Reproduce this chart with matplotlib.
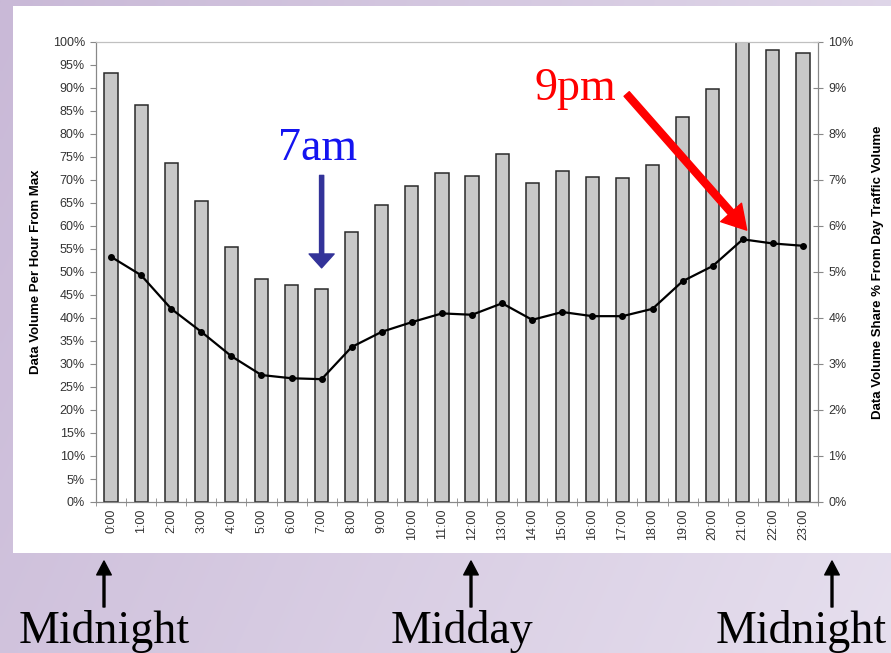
import numpy as np
import matplotlib
matplotlib.use('Agg')
import matplotlib.pyplot as plt
from matplotlib.patches import Rectangle
from matplotlib.colors import to_rgb

# ---------------- data ----------------
hours = ["0:00", "1:00", "2:00", "3:00", "4:00", "5:00", "6:00", "7:00",
         "8:00", "9:00", "10:00", "11:00", "12:00", "13:00", "14:00", "15:00",
         "16:00", "17:00", "18:00", "19:00", "20:00", "21:00", "22:00", "23:00"]
volume_pct_of_max = [93.3, 86.3, 73.7, 65.4, 55.5, 48.5, 47.1, 46.2,
                     58.8, 64.5, 68.8, 71.5, 70.9, 75.6, 69.4, 71.9,
                     70.6, 70.5, 73.2, 83.8, 89.8, 100.0, 98.3, 97.7]
share_pct_of_day = [5.33, 4.93, 4.20, 3.70, 3.17, 2.76, 2.69, 2.67,
                    3.37, 3.70, 3.91, 4.10, 4.07, 4.32, 3.96, 4.13,
                    4.04, 4.04, 4.20, 4.80, 5.13, 5.71, 5.62, 5.57]
left_ticks = [0, 5, 10, 15, 20, 25, 30, 35, 40, 45, 50, 55, 60, 65, 70, 75, 80, 85, 90, 95, 100]
right_ticks = [0, 1, 2, 3, 4, 5, 6, 7, 8, 9, 10]

W, H = 891, 653
fig = plt.figure(figsize=(W / 100, H / 100), dpi=100)

# ---------------- background (slide) ----------------
bg = fig.add_axes([0, 0, 1, 1], zorder=-5)
bg.set_xlim(0, W)
bg.set_ylim(H, 0)
bg.axis('off')
c_left = np.array(to_rgb('#c9b9d7'))
c_right = np.array(to_rgb('#e6dfee'))
gx = np.linspace(0, 1, 200)[None, :, None]
gy = np.linspace(0, 1, 100)[:, None, None]
t = np.clip(0.75 * gx + 0.25 * gy, 0, 1)
grad = c_left * (1 - t) + c_right * t
bg.imshow(grad, extent=[0, W, H, 0], aspect='auto', interpolation='bilinear')
bg.add_patch(Rectangle((13, 6), W - 13, 547, facecolor='white', edgecolor='none'))

# bottom annotations
serif = ['Liberation Serif', 'DejaVu Serif']
for xc, label in [(104, 'Midnight'), (462, 'Midday'), (801, 'Midnight')]:
    bg.text(xc, 643, label, ha='center', va='baseline', fontsize=33,
            family=serif, color='black')
for xa in [104, 471, 832]:
    bg.annotate('', xy=(xa, 561), xytext=(xa, 607),
                arrowprops=dict(arrowstyle='simple,head_width=1.05,head_length=1.0,tail_width=0.14',
                                mutation_scale=10, color='black', shrinkA=0, shrinkB=0))

# ---------------- main chart ----------------
ax = fig.add_axes([96 / W, 1 - 502 / H, 722 / W, 460 / H])
x = np.arange(len(hours))
ax.bar(x, volume_pct_of_max, width=0.44, color='#c8c8c8', edgecolor='#2a2a2a',
       linewidth=1.1, zorder=2)
ax.set_xlim(-0.5, len(hours) - 0.5)
ax.set_ylim(0, 100)
ax.set_yticks(left_ticks)
ax.set_yticklabels([f"{v}%" for v in left_ticks])
ax.set_xticks(x)
ax.set_xticklabels(hours, rotation=90)
ax.set_xticks(np.arange(len(hours) + 1) - 0.5, minor=True)
ax.tick_params(axis='x', which='major', length=0, pad=5, labelsize=9, labelcolor='#333333')
ax.tick_params(axis='x', which='minor', direction='inout', length=6, color='#888888')
ax.tick_params(axis='y', length=4, color='#888888', labelsize=9, labelcolor='#333333', pad=4)
for s in ['left', 'bottom']:
    ax.spines[s].set_color('#888888')
ax.spines['top'].set_color('#c0c0c0')
ax.spines['right'].set_color('#888888')
ax.set_ylabel('Data Volume Per Hour From Max', fontsize=9.5, fontweight='bold',
              family='Liberation Sans', labelpad=8)

ax2 = ax.twinx()
ax2.plot(x, share_pct_of_day, color='black', linewidth=1.6, marker='o',
         markersize=4, zorder=3)
ax2.set_ylim(0, 10)
ax2.set_yticks(right_ticks)
ax2.set_yticklabels([f"{v}%" for v in right_ticks])
ax2.tick_params(axis='y', direction='inout', length=7, color='#888888',
                labelsize=9, labelcolor='#333333', pad=4)
for s in ax2.spines.values():
    s.set_color('#888888')
ax2.spines['top'].set_color('#c0c0c0')
ax2.set_ylabel('Data Volume Share % From Day Traffic Volume', fontsize=9.5,
               fontweight='bold', family='Liberation Sans', labelpad=13)

for a in (ax, ax2):
    for lab in a.get_xticklabels() + a.get_yticklabels():
        lab.set_family('Liberation Sans')

# 7am annotation
ax2.text(6.87, 74.3, '7am', transform=ax.transData, ha='center', va='baseline',
         fontsize=33, family=serif, color='#1414f0', zorder=5)
ax2.annotate('', xy=(7.0, 50.9), xycoords=ax.transData,
             xytext=(7.0, 71.0), textcoords=ax.transData,
             arrowprops=dict(arrowstyle='simple,head_width=1.8,head_length=1.0,tail_width=0.3',
                             mutation_scale=10, color='#333399', shrinkA=0, shrinkB=0),
             zorder=5)

# 9pm annotation
ax2.text(15.45, 87.4, '9pm', transform=ax.transData, ha='center', va='baseline',
         fontsize=33, family=serif, color='#ff0000', zorder=5)
ax2.annotate('', xy=(21.13, 59.1), xycoords=ax.transData,
             xytext=(17.14, 88.7), textcoords=ax.transData,
             arrowprops=dict(arrowstyle='simple,head_width=2.0,head_length=1.7,tail_width=0.5',
                             mutation_scale=10, color='#ff0000', shrinkA=0, shrinkB=0),
             zorder=5)

fig.savefig('out.png', dpi=100)
